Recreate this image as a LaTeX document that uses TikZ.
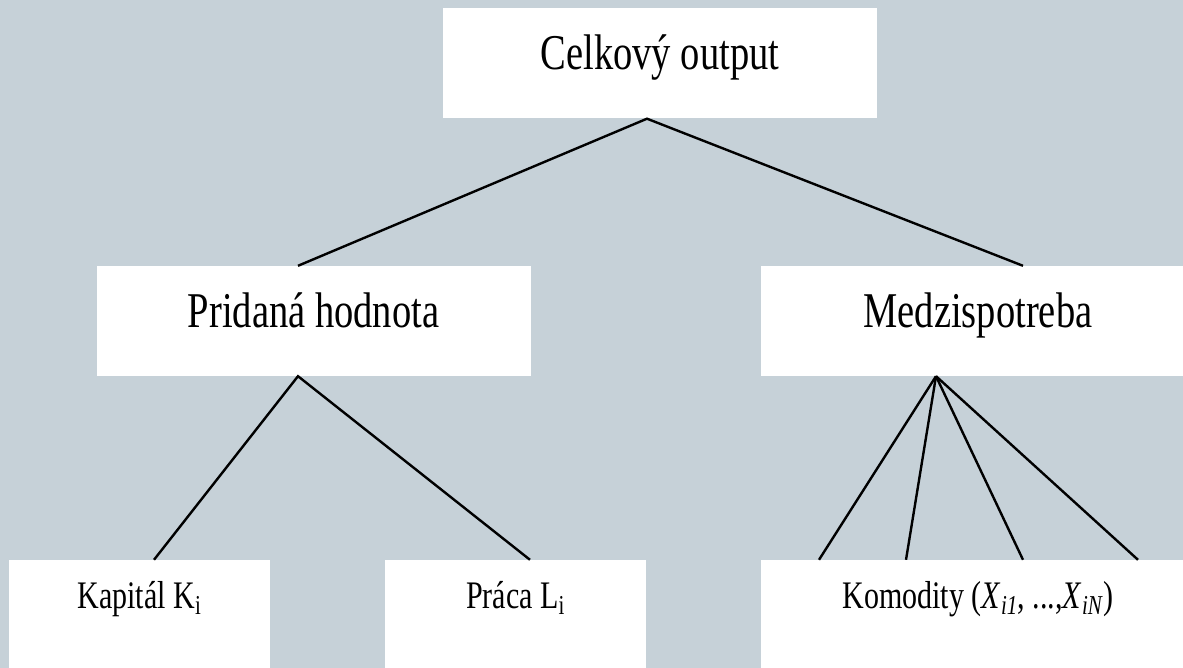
\documentclass[tikz,border=0pt]{standalone}
\usepackage{fontspec}
\setmainfont{Liberation Serif}
\usepackage{graphicx}
\definecolor{bgblue}{RGB}{198,209,216}
\newcommand{\tallbox}[1]{\scalebox{1}[1.3]{#1}}

\begin{document}
\begin{tikzpicture}[x=1pt, y=-1pt,
  every node/.style = {fill=white, inner sep=0pt},
  upper/.style = {minimum width=434pt, minimum height=110pt,
    font=\fontsize{38.5}{40}\selectfont, text height=30pt, text depth=18pt},
  lower/.style = {minimum height=110pt,
    font=\fontsize{30}{32}\selectfont, text height=20pt, text depth=34pt},
  link/.style = {line width=2.4pt}]
  \clip (0,0) rectangle (1183,668);
  \fill[bgblue] (0,0) rectangle (1183,668);
  % boxes
  \node[upper] (celk) at (660,63.5) {\tallbox{Celkový output}};
  \node[upper] (prid) at (313.5,321) {\tallbox{Pridaná hodnota}};
  \node[upper] (medz) at (978,321) {\tallbox{Medzispotreba}};
  \node[lower, minimum width=261pt] (kap) at (139.5,615) {\tallbox{Kapitál K\textsubscript{i}}};
  \node[lower, minimum width=261pt] (prac) at (515.5,615) {\tallbox{Práca L\textsubscript{i}}};
  \node[lower, minimum width=434pt] (kom) at (978,615)
    {\tallbox{Komodity (\textit{X}\textsubscript{\textit{i1}}, ...,\textit{X}\textsubscript{\textit{iN}})}};
  % connectors
  \draw[link] ([xshift=-15.5pt]prid.north) -- ([xshift=-13pt]celk.south) -- ([xshift=45pt]medz.north);
  \draw[link] ([xshift=14.5pt]kap.north) -- ([xshift=-15.5pt]prid.south) -- ([xshift=14.5pt]prac.north);
  \foreach \dx in {-159,-72,45,160}
    \draw[link] ([xshift=-42pt]medz.south) -- ([xshift=\dx pt]kom.north);
\end{tikzpicture}
\end{document}
